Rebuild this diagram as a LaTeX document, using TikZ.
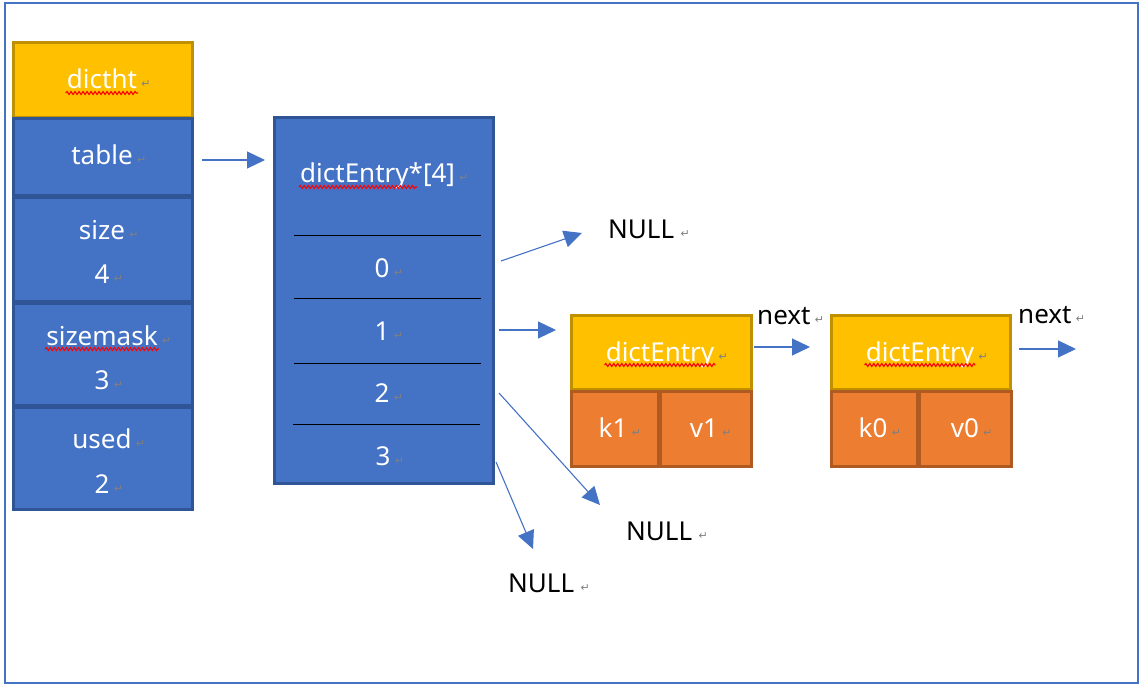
\documentclass[tikz,border=0pt]{standalone}
\usepackage{fontspec}
\setmainfont{Noto Sans}
\newfontfamily\pmfamily{DejaVu Sans}
\usetikzlibrary{arrows.meta,decorations.pathmorphing}
\definecolor{frameblue}{HTML}{4472C4}
\definecolor{blu}{HTML}{4472C4}
\definecolor{bluborder}{HTML}{2F5597}
\definecolor{yel}{HTML}{FFC000}
\definecolor{yelborder}{HTML}{BF9000}
\definecolor{org}{HTML}{ED7D31}
\definecolor{orgborder}{HTML}{AE5A21}
\definecolor{arrblue}{HTML}{4472C4}
\definecolor{pmgray}{HTML}{808080}
\tikzset{
  frame/.style={draw=frameblue, line width=2pt},
  boxbase/.style={rectangle, inner sep=0pt, outer sep=0pt, line width=3pt},
  yelbox/.style={boxbase, draw=yelborder, fill=yel},
  blubox/.style={boxbase, draw=bluborder, fill=blu},
  orgbox/.style={boxbase, draw=orgborder, fill=org},
  lbl/.style={inner sep=0pt, anchor=base, font={\fontsize{26}{30}\selectfont}, text=white},
  blk/.style={lbl, text=black},
  pm/.style={inner sep=0pt, anchor=base west, font={\pmfamily\fontsize{11}{12}\selectfont}, text=pmgray},
  link/.style={draw=arrblue, line width=1.1pt, -{Triangle[length=18pt,width=17pt]}},
  wavy/.style={draw=red, line width=1.1pt, decorate, decoration={snake, segment length=4pt, amplitude=1.5pt}},
  divider/.style={draw=black, line width=1pt},
}
% box node: style, name, x1, y1, x2, y2
\newcommand\boxnode[6]{%
  \node[#1, minimum width={(#5-#3)*1pt}, minimum height={(#6-#4)*1pt}] (#2) at ({(#3+#5)/2},{(#4+#6)/2}) {};}
% text with paragraph mark: style, name, x, y, text
\newcommand\lab[5]{%
  \node[#1] (#2) at (#3,#4) {#5};
  \node[pm] (#2pm) at ([xshift=4pt,yshift=1pt]#2.base east) {↵};}
\newcommand\wave[1]{%
  \draw[wavy] ([yshift=-4pt,xshift=-1pt]#1.base west) -- ([yshift=-4pt,xshift=1pt]#1.base east);}
\begin{document}
\begin{tikzpicture}[x=1pt,y=-1pt]
\useasboundingbox (0,0) rectangle (1143,687);
\draw[frame] (5,3) rectangle (1138,683);

% dictht column
\boxnode{yelbox}{dictht}{13}{43}{192}{118}
\boxnode{blubox}{table}{13}{119}{192}{196}
\boxnode{blubox}{size}{13}{198}{192}{301}
\boxnode{blubox}{sizemask}{13}{303}{192}{405}
\boxnode{blubox}{used}{13}{407}{192}{509}
\lab{lbl}{tdictht}{102}{89}{dictht}\wave{tdictht}
\lab{lbl}{ttable}{102}{165}{table}
\lab{lbl}{tsize}{102}{240}{size}
\lab{lbl}{tfour}{102}{283}{4}
\lab{lbl}{tsizemask}{102}{345}{sizemask}\wave{tsizemask}
\lab{lbl}{tthree}{102}{389}{3}
\lab{lbl}{tused}{102}{448}{used}
\lab{lbl}{ttwo}{102}{493}{2}

% table array
\boxnode{blubox}{arr}{274}{118}{493}{483}
\node[lbl, anchor=base west] (tarr) at (300,183) {dictEntry*[4]};
\node[pm] (tarrpm) at ([xshift=4pt,yshift=1pt]tarr.base east) {↵};
\draw[wavy] ([yshift=-4pt,xshift=-1pt]tarr.base west) -- ([yshift=-4pt,xshift=-38pt]tarr.base east);
\coordinate (d0a) at (294,236); \coordinate (d0b) at (481,236);
\coordinate (d1a) at (294,298); \coordinate (d1b) at (481,298);
\coordinate (d2a) at (294,363); \coordinate (d2b) at (481,363);
\coordinate (d3a) at (293,424); \coordinate (d3b) at (480,424);
\draw[divider] (d0a) -- (d0b);
\draw[divider] (d1a) -- (d1b);
\draw[divider] (d2a) -- (d2b);
\draw[divider] (d3a) -- (d3b);
\lab{lbl}{tzero}{382}{277}{0}
\lab{lbl}{tone}{382}{340}{1}
\lab{lbl}{ttwoi}{382}{402}{2}
\lab{lbl}{tthreei}{383}{465}{3}

% dictEntry 1
\boxnode{yelbox}{de1}{571}{315}{751}{389}
\boxnode{orgbox}{k1}{571}{391}{658}{466}
\boxnode{orgbox}{v1}{660}{391}{751}{466}
\lab{lbl}{tde1}{660}{361}{dictEntry}\wave{tde1}
\lab{lbl}{tk1}{613}{437}{k1}
\lab{lbl}{tv1}{704}{437}{v1}

% dictEntry 2
\boxnode{yelbox}{de2}{831}{315}{1010}{389}
\boxnode{orgbox}{k0}{831}{391}{917}{466}
\boxnode{orgbox}{v0}{919}{391}{1011}{466}
\lab{lbl}{tde2}{920}{361}{dictEntry}\wave{tde2}
\lab{lbl}{tk0}{873}{437}{k0}
\lab{lbl}{tv0}{965}{437}{v0}

% black labels
\node[blk, anchor=base west] (next1) at (757,324) {next};
\node[pm] (next1pm) at ([xshift=4pt,yshift=1pt]next1.base east) {↵};
\node[blk, anchor=base west] (next2) at (1018,323) {next};
\node[pm] (next2pm) at ([xshift=4pt,yshift=1pt]next2.base east) {↵};
\node[blk, anchor=base west] (null1) at (608,238) {NULL};
\node[pm] (null1pm) at ([xshift=6pt,yshift=1pt]null1.base east) {↵};
\node[blk, anchor=base west] (null2) at (626,540) {NULL};
\node[pm] (null2pm) at ([xshift=6pt,yshift=1pt]null2.base east) {↵};
\node[blk, anchor=base west] (null3) at (508,592) {NULL};
\node[pm] (null3pm) at ([xshift=6pt,yshift=1pt]null3.base east) {↵};

% connectors
\coordinate (a1s) at (202,160); \coordinate (a1e) at (265,160);
\coordinate (a2s) at (501,261); \coordinate (a2e) at (582,233);
\coordinate (a3s) at (499,330); \coordinate (a3e) at (556,330);
\coordinate (a4s) at (754,347); \coordinate (a4e) at (810,347);
\coordinate (a5s) at (1019,349); \coordinate (a5e) at (1076,349);
\coordinate (a6s) at (499,393); \coordinate (a6e) at (600,505);
\coordinate (a7s) at (496,462); \coordinate (a7e) at (533,549);
\draw[link] (a1s) -- (a1e);
\draw[link] (a2s) -- (a2e);
\draw[link] (a3s) -- (a3e);
\draw[link] (a4s) -- (a4e);
\draw[link] (a5s) -- (a5e);
\draw[link] (a6s) -- (a6e);
\draw[link] (a7s) -- (a7e);
\end{tikzpicture}
\end{document}
